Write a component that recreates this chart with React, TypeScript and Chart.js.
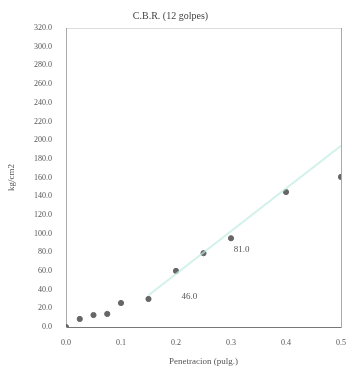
import React, { useEffect, useRef } from "react";
import { Chart, registerables } from "chart.js";

Chart.register(...registerables);

const titleText = "C.B.R. (12 golpes)";
const xTitle = "Penetracion (pulg.)";
const yTitle = "kg/cm2";

const penetration = [0, 0.025, 0.05, 0.075, 0.1, 0.15, 0.2, 0.25, 0.3, 0.4, 0.5];
const load = [0, 8.6, 12.8, 14, 25.7, 30, 60, 79, 95, 144.5, 160.6];

const trendX = [0.15, 0.5];
const trendY = [34, 194];

const labelX = [0.21, 0.305];
const labelY = [33, 83];
const labelText = ["46.0", "81.0"];

const FONT = "'Liberation Serif', 'DejaVu Serif', serif";

const labelPlugin = {
  id: "valueLabels",
  afterDatasetsDraw(chart: any) {
    const ctx = chart.ctx;
    const xs = chart.scales.x;
    const ys = chart.scales.y;
    ctx.save();
    ctx.font = `9px ${FONT}`;
    ctx.fillStyle = "#555";
    ctx.textAlign = "left";
    ctx.textBaseline = "middle";
    labelText.forEach((t, i) => {
      ctx.fillText(t, xs.getPixelForValue(labelX[i]), ys.getPixelForValue(labelY[i]));
    });
    ctx.restore();
  },
};

export default function App() {
  const ref = useRef<HTMLCanvasElement>(null);
  useEffect(() => {
    document.body.style.margin = "0";
    const chart = new Chart(ref.current!, {
      type: "scatter",
      data: {
        datasets: [
          {
            type: "line",
            data: trendX.map((x, i) => ({ x, y: trendY[i] })),
            borderColor: "rgba(190,235,225,0.7)",
            borderWidth: 2,
            pointRadius: 0,
            fill: false,
          } as any,
          {
            data: penetration.map((x, i) => ({ x, y: load[i] })),
            backgroundColor: "#666",
            borderColor: "#666",
            pointRadius: 2.6,
          },
        ],
      },
      options: {
        animation: false,
        responsive: false,
        layout: { padding: { left: 0, right: 9, top: 0, bottom: 0 } },
        plugins: {
          legend: { display: false },
          tooltip: { enabled: false },
          title: {
            display: true,
            text: titleText,
            color: "#444",
            font: { family: FONT, size: 10, weight: "normal" },
            padding: { top: 10, bottom: 6 },
          },
        },
        scales: {
          x: {
            type: "linear",
            min: 0,
            max: 0.5,
            grid: { display: false },
            border: { color: "#777", dash: [3, 1], width: 1 },
            ticks: {
              stepSize: 0.1,
              color: "#555",
              font: { family: FONT, size: 8 },
              callback: (v: any) => Number(v).toFixed(1),
              padding: 3,
            },
            title: {
              display: true,
              text: xTitle,
              color: "#555",
              font: { family: FONT, size: 9 },
              padding: { top: 4, bottom: 0 },
            },
            afterFit: (s: any) => {
              s.height = 40;
            },
          },
          x2: {
            type: "linear",
            position: "top",
            min: 0,
            max: 0.5,
            grid: { display: false },
            border: { color: "#ddd", width: 1 },
            ticks: { display: false },
            afterFit: (s: any) => {
              s.height = 0;
            },
          },
          y: {
            min: 0,
            max: 320,
            grid: { display: false },
            border: { color: "#aaa", dash: [2, 2], width: 1 },
            ticks: {
              stepSize: 20,
              color: "#555",
              font: { family: FONT, size: 8 },
              callback: (v: any) => Number(v).toFixed(1),
              padding: 6,
            },
            title: {
              display: true,
              text: yTitle,
              color: "#555",
              font: { family: FONT, size: 9 },
              padding: { top: 6, bottom: 6 },
            },
            afterFit: (s: any) => {
              s.width = 66;
            },
          },
          y2: {
            position: "right",
            min: 0,
            max: 320,
            grid: { display: false },
            border: { color: "#aaa", dash: [2, 2], width: 1 },
            ticks: { display: false },
            afterFit: (s: any) => {
              s.width = 0;
            },
          },
        },
      },
      plugins: [labelPlugin],
    } as any);
    return () => chart.destroy();
  }, []);
  return <canvas ref={ref} width={350} height={367} style={{ display: "block" }} />;
}
